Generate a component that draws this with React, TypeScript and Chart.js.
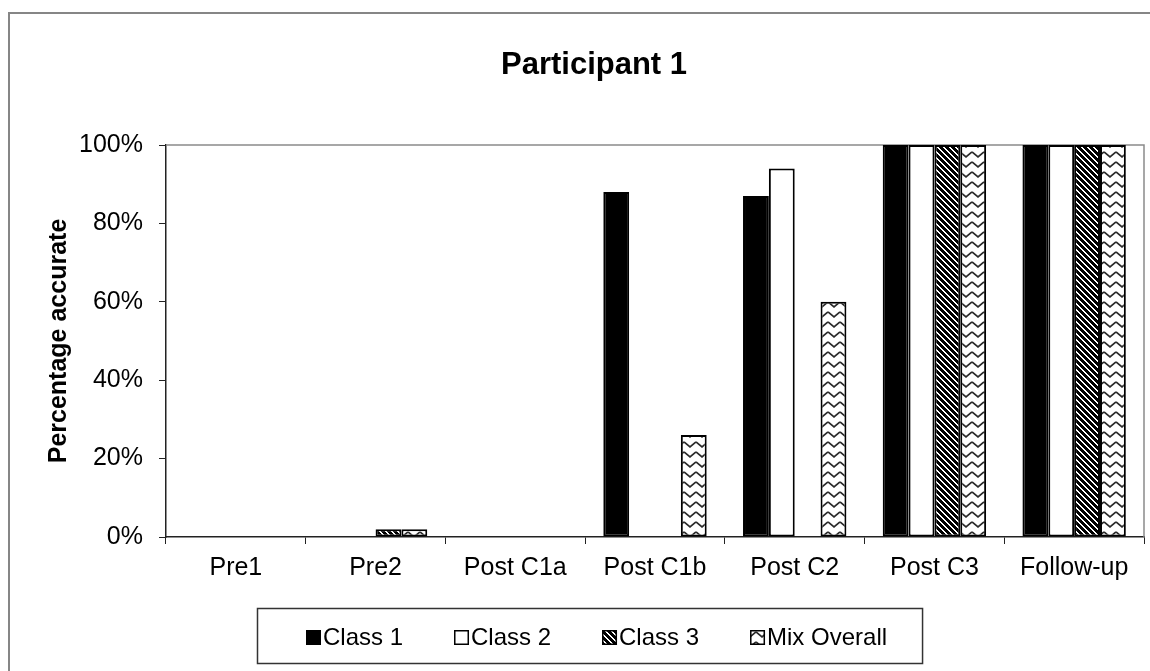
import { useEffect, useRef } from 'react';
import { Chart, registerables } from 'chart.js';

Chart.register(...registerables);

// Sessions along the x axis
const categories = ['Pre1', 'Pre2', 'Post C1a', 'Post C1b', 'Post C2', 'Post C3', 'Follow-up'];

// Percentage accurate per class and session
const class1 = [0, 0, 0, 88, 87, 100, 100];
const class2 = [0, 0, 0, 0, 94, 100, 100];
const class3 = [0, 2, 0, 0, 0, 100, 100];
const mixOverall = [0, 2, 0, 26, 60, 100, 100];

const seriesNames = ['Class 1', 'Class 2', 'Class 3', 'Mix Overall'];
const yTickValues = [0, 20, 40, 60, 80, 100];
const chartTitle = 'Participant 1';
const yAxisTitle = 'Percentage accurate';

const FONT = '"Liberation Sans", Arial, Helvetica, sans-serif';
const W = 1180;
const H = 700;
// horizontal centre of the chart frame (frame runs from x=9 to about x=1174)
const FRAME_CX = 591;

function makeTile(w: number, h: number, paint: (g: CanvasRenderingContext2D) => void) {
  const c = document.createElement('canvas');
  c.width = w;
  c.height = h;
  const g = c.getContext('2d')!;
  paint(g);
  return g.createPattern(c, 'repeat')!;
}

// Dark downward diagonal stripes
function diagonalPattern() {
  const n = 6;
  return makeTile(n, n, (g) => {
    g.fillStyle = '#fff';
    g.fillRect(0, 0, n, n);
    g.fillStyle = '#000';
    for (let y = 0; y < n; y++) {
      for (let x = 0; x < n; x++) {
        if ((((x - y) % n) + n) % n < 4) g.fillRect(x, y, 1, 1);
      }
    }
  });
}

// Zig-zag lines on white
function zigzagPattern() {
  const w = 12;
  const h = 10;
  return makeTile(w, h, (g) => {
    g.fillStyle = '#fff';
    g.fillRect(0, 0, w, h);
    g.strokeStyle = '#2a2a2a';
    g.lineWidth = 1.7;
    for (const dx of [-w, 0, w]) {
      g.beginPath();
      g.moveTo(dx, 2);
      g.lineTo(dx + w / 2, 7);
      g.lineTo(dx + w, 2);
      g.stroke();
    }
  });
}

// Chart frame, title and plot-area border
const framePlugin = {
  id: 'frame',
  beforeDraw(chart: any) {
    const { ctx } = chart;
    ctx.save();
    ctx.fillStyle = '#fff';
    ctx.fillRect(0, 0, chart.width, chart.height);
    ctx.strokeStyle = '#868686';
    ctx.lineWidth = 2;
    ctx.strokeRect(9, 13, chart.width + 100, chart.height + 100);
    ctx.fillStyle = '#000';
    ctx.font = `bold 31px ${FONT}`;
    ctx.textAlign = 'center';
    ctx.textBaseline = 'alphabetic';
    ctx.fillText(chartTitle, FRAME_CX + 3, 74);
    ctx.restore();
  },
  beforeDatasetsDraw(chart: any) {
    const { ctx, chartArea: a } = chart;
    ctx.save();
    ctx.strokeStyle = '#8a8a8a';
    ctx.lineWidth = 1.5;
    ctx.beginPath();
    ctx.moveTo(a.left, a.top);
    ctx.lineTo(a.right, a.top);
    ctx.lineTo(a.right, a.bottom);
    ctx.stroke();
    ctx.restore();
  },
};

// Boxed legend under the axis
const boxedLegend = {
  id: 'boxedLegend',
  afterDraw(chart: any) {
    const { ctx } = chart;
    ctx.save();
    ctx.font = `24px ${FONT}`;
    const sq = 15;
    const gap = 2;
    const items = chart.data.datasets.map((d: any) => ({
      label: d.label as string,
      fill: d.backgroundColor,
      w: sq + gap + ctx.measureText(d.label).width,
    }));
    const maxW = Math.max(...items.map((i: any) => i.w));
    const stride = maxW + 11;
    const span = stride * (items.length - 1) + items[items.length - 1].w;
    const boxW = span + 84;
    const left = Math.round(FRAME_CX - 1.5 - boxW / 2) + 0.5;
    const top = 608.5;
    const boxH = 55;
    ctx.fillStyle = '#fff';
    ctx.fillRect(left, top, boxW, boxH);
    ctx.strokeStyle = '#333';
    ctx.lineWidth = 1.5;
    ctx.strokeRect(left, top, boxW, boxH);
    let x = Math.round(left + 48);
    const base = 645;
    items.forEach((it: any) => {
      ctx.fillStyle = it.fill;
      ctx.fillRect(x, base - sq, sq, sq);
      ctx.strokeStyle = '#000';
      ctx.lineWidth = 1.5;
      ctx.strokeRect(x + 0.75, base - sq + 0.75, sq - 1.5, sq - 1.5);
      ctx.fillStyle = '#000';
      ctx.textBaseline = 'alphabetic';
      ctx.textAlign = 'left';
      ctx.fillText(it.label, x + sq + gap, base);
      x += stride;
    });
    ctx.restore();
  },
};

export default function App() {
  const canvasRef = useRef<HTMLCanvasElement | null>(null);

  useEffect(() => {
    const canvas = canvasRef.current;
    if (!canvas) return;
    const fills = ['#000000', '#ffffff', diagonalPattern(), zigzagPattern()];
    const values = [class1, class2, class3, mixOverall];

    const chart = new Chart(canvas, {
      type: 'bar',
      data: {
        labels: categories,
        datasets: seriesNames.map((name, i) => ({
          label: name,
          data: values[i],
          backgroundColor: fills[i] as any,
          borderColor: '#000',
          borderWidth: 2,
          borderSkipped: false as any,
          categoryPercentage: 0.74,
          barPercentage: 1,
        })),
      },
      options: {
        animation: false,
        responsive: false,
        devicePixelRatio: 1,
        layout: { padding: { left: 0, right: 36, top: 145, bottom: 0 } },
        plugins: {
          legend: { display: false },
          tooltip: { enabled: false },
          title: { display: false },
        },
        scales: {
          x: {
            offset: true,
            grid: {
              offset: true,
              drawOnChartArea: false,
              drawTicks: true,
              tickLength: 7,
              color: '#222',
              lineWidth: 1,
            },
            border: { display: true, color: '#222', width: 1.5 },
            ticks: {
              color: '#000',
              font: { family: FONT, size: 25 },
              padding: 9,
              maxRotation: 0,
              autoSkip: false,
            },
            afterFit(scale: any) {
              scale.height = 163;
            },
          },
          y: {
            min: 0,
            max: 100,
            afterBuildTicks(scale: any) {
              scale.ticks = yTickValues.map((v) => ({ value: v }));
            },
            ticks: {
              color: '#000',
              font: { family: FONT, size: 25 },
              padding: 16,
              callback: (v: any) => `${v}%`,
            },
            grid: {
              drawOnChartArea: false,
              drawTicks: true,
              tickLength: 7,
              color: '#222',
            },
            border: { display: true, color: '#222', width: 1.5 },
            title: {
              display: true,
              text: yAxisTitle,
              color: '#000',
              font: { family: FONT, size: 25, weight: 'bold' },
              padding: { top: 44, bottom: 0 },
            },
            afterFit(scale: any) {
              scale.width = 166;
            },
          },
        },
      },
      plugins: [framePlugin, boxedLegend],
    });
    return () => chart.destroy();
  }, []);

  return (
    <div
      style={{
        position: 'absolute',
        left: 0,
        top: 0,
        width: 1150,
        height: 671,
        overflow: 'hidden',
        background: '#fff',
      }}
    >
      <canvas ref={canvasRef} width={W} height={H} style={{ width: W, height: H, display: 'block' }} />
    </div>
  );
}
